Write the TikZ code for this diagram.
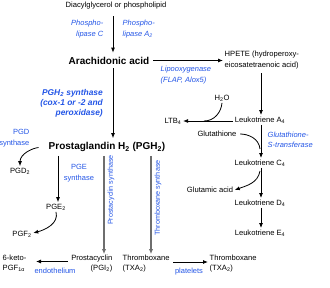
\documentclass[tikz,border=0pt]{standalone}
\usepackage{fontspec}
\setmainfont{Liberation Sans}
\usetikzlibrary{arrows.meta}
\definecolor{lblue}{RGB}{35,85,230}
\definecolor{lgray}{RGB}{110,110,110}
\begin{document}
\begin{tikzpicture}[x=1pt,y=-1pt,
  txt/.style={font=\fontsize{7.6}{10.5}\selectfont, inner sep=1.5pt},
  blu/.style={font=\fontsize{7.5}{10.5}\selectfont, text=lblue, inner sep=1.5pt},
  bluit/.style={font=\fontsize{7.5}{10.5}\selectfont\itshape, text=lblue, inner sep=1.5pt},
  bluebold/.style={font=\fontsize{8.4}{10}\selectfont\bfseries\itshape, text=lblue, inner sep=1pt},
  rot/.style={font=\fontsize{7.2}{9}\selectfont, text=lblue, inner sep=0pt, rotate=90},
  big/.style={font=\fontsize{10}{12}\selectfont\bfseries, inner sep=4pt},
  arr/.style={line width=0.8pt, -{Latex[length=5pt,width=4pt]}},
  plain/.style={line width=0.8pt},
  gline/.style={line width=1.6pt, draw=lgray, -{Latex[length=5pt,width=4.5pt]}, shorten >=-1pt},
]
\useasboundingbox (0,0) rectangle (330,288);

% left / centre column
\node[txt] (diacyl) at (116,6) {Diacylglycerol or phospholipid};
\node[bluit, align=right, anchor=east] (plc) at (105,29) {Phospho-\\lipase C};
\node[bluit, align=left, anchor=west] (pla) at (121,29) {Phospho-\\lipase A\textsubscript{2}};
\node[big] (aa) at (109,60.5) {Arachidonic acid};
\coordinate (c1) at (113,0);
\draw[arr, shorten <=5pt] (c1 |- diacyl.south) -- (c1 |- aa.north);

\node[bluebold, align=right, anchor=east] (pghs) at (104,103) {PGH\textsubscript{2} synthase\\(cox-1 or -2 and\\peroxidase)};
\node[big] (pgh2) at (107,147) {Prostaglandin H\textsubscript{2} (PGH\textsubscript{2})};
\draw[arr] (c1 |- aa.south) -- (c1 |- pgh2.north);

% PGD
\node[blu, align=right, anchor=east] (pgds) at (31,138) {PGD\\synthase};
\node[txt] (pgd2) at (20,171) {PGD\textsubscript{2}};
\draw[arr, shorten <=6pt] (pgh2.west) to[out=185,in=90] (pgd2.north);

% PGE
\coordinate (c3) at (58,0);
\node[blu, align=center] (pges) at (79,173) {PGE\\synthase};
\node[txt] (pge2) at (56,207) {PGE\textsubscript{2}};
\draw[arr] (c3 |- pgh2.south) -- (c3 |- pge2.north);
\node[txt] (pgf2) at (22,234) {PGF\textsubscript{2}};
\draw[arr] (pge2.south) to[out=-75,in=15] ([yshift=1pt]pgf2.east);

% prostacyclin & thromboxane
\coordinate (c4) at (104,0);
\coordinate (c5) at (151,0);
\node[txt, align=right, anchor=east] (pgi) at (114,263.5) {Prostacyclin\\(PGI\textsubscript{2})};
\node[txt, align=left, anchor=west] (txa) at (121,263.5) {Thromboxane\\(TXA\textsubscript{2})};
\draw[gline] (c4 |- pgh2.south) -- (c4 |- pgi.north);
\draw[gline] (c5 |- pgh2.south) -- (c5 |- txa.north);
\node[rot] (pgis) at (111,190) {Prostacyclin synthase};
\node[rot] (txas) at (158,198) {Thromboxane synthase};

\node[txt, align=left, anchor=west] (keto) at (1,263.5) {6-keto-\\PGF\textsubscript{1α}};
\draw[arr] ([yshift=2pt]pgi.west) ++(-2,0) -- ([yshift=2pt]keto.east -| 36,0);
\node[blu] (endo) at (55,271) {endothelium};

\node[txt, align=left, anchor=west] (txa2) at (208,263.5) {Thromboxane\\(TXA\textsubscript{2})};
\draw[arr] ([yshift=1.5pt]txa.east) ++(2,0) -- ([yshift=1.5pt]txa2.west);
\node[blu] (plt) at (189,272) {platelets};

% right column
\node[txt, align=left, anchor=west] (hpete) at (223,60) {HPETE (hydroperoxy-\\eicosatetraenoic acid)};
\draw[arr] (aa.east) -- (aa.east -| hpete.west);
\node[bluit, align=left, anchor=west] (lipo) at (159,75) {Lipooxygenase\\(FLAP, Alox5)};

\coordinate (c2) at (261,0);
\node[txt] (lta4) at (260,120) {Leukotriene A\textsubscript{4}};
\draw[arr, shorten <=3pt] (c2 |- hpete.south) -- (c2 |- lta4.north);
\node[txt] (h2o) at (222,98) {H\textsubscript{2}O};
\node[txt] (ltb4) at (173,121) {LTB\textsubscript{4}};
\draw[arr] (lta4.west |- 0,121) -- (ltb4.east |- 0,121);
\coordinate (j1) at (204,121);
\draw[plain] (h2o.south) to[out=-95,in=0] (j1);

\node[txt] (glut) at (217,134) {Glutathione};
\node[bluit, align=left, anchor=west] (gst) at (266,140) {Glutathione-\\S-transferase};
\node[txt] (ltc4) at (260,163) {Leukotriene C\textsubscript{4}};
\draw[arr] (c2 |- lta4.south) -- (c2 |- ltc4.north);
\coordinate (j2) at (260,149);
\draw[plain, shorten <=2pt] (glut.east) to[out=0,in=95] (j2);

\node[txt] (gluta) at (210,190) {Glutamic acid};
\node[txt] (ltd4) at (260,203) {Leukotriene D\textsubscript{4}};
\draw[arr] (c2 |- ltc4.south) -- (c2 |- ltd4.north);
\coordinate (j3) at (260,171);
\draw[arr] (j3) to[out=-100,in=20] (gluta.east);

\node[txt] (lte4) at (260,233) {Leukotriene E\textsubscript{4}};
\draw[arr] (c2 |- ltd4.south) -- (c2 |- lte4.north);
\end{tikzpicture}
\end{document}
